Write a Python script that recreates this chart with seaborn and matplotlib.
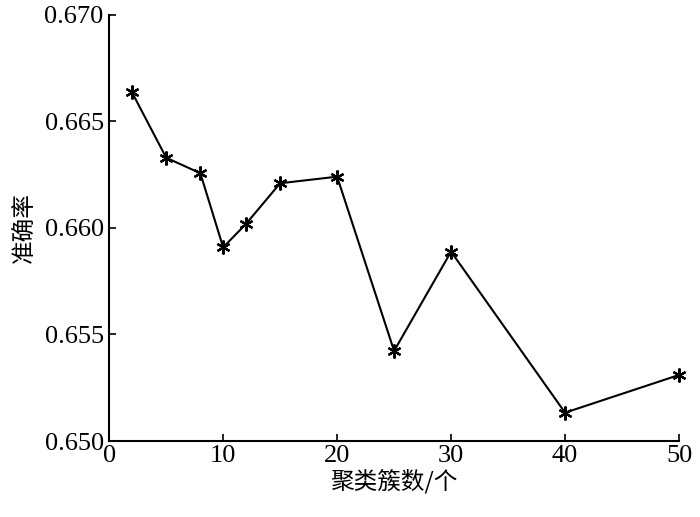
import matplotlib
matplotlib.use("Agg")
import matplotlib.pyplot as plt
import seaborn as sns
import pandas as pd

clusters = [2, 5, 8, 10, 12, 15, 20, 25, 30, 40, 50]
accuracy = [0.66637, 0.66330, 0.66257, 0.65909, 0.66019, 0.66210,
            0.66241, 0.65423, 0.65889, 0.65133, 0.65310]
xticks = [0, 10, 20, 30, 40, 50]
yticks = [0.650, 0.655, 0.660, 0.665, 0.670]
ytick_labels = ["0.650", "0.655", "0.660", "0.665", "0.670"]
xlabel = "聚类簇数/个"
ylabel = "准确率"

sns.set_theme(style="white")
fam = ["Liberation Serif", "Noto Sans CJK SC"]
plt.rcParams["font.family"] = fam
plt.rcParams["axes.unicode_minus"] = False

df = pd.DataFrame({"clusters": clusters, "accuracy": accuracy})

fig = plt.figure(figsize=(7, 5.17), dpi=100)
ax = fig.add_axes([0.156, 0.147, 0.814, 0.824])
sns.lineplot(data=df, x="clusters", y="accuracy", ax=ax, color="black",
             linewidth=1.5, marker=(6, 2, 0), markersize=10,
             markeredgewidth=1.6, markeredgecolor="black")
for ln in ax.get_lines():
    ln.set_clip_on(False)

ax.set_xlim(0, 50)
ax.set_ylim(0.650, 0.670)
ax.set_xticks(xticks)
ax.set_yticks(yticks)
ax.set_yticklabels(ytick_labels)
ax.tick_params(axis="both", direction="in", length=5, width=1.2,
               labelsize=19, colors="black", left=True, bottom=True)
ax.tick_params(axis="x", pad=3)
ax.tick_params(axis="y", pad=4)
ax.set_xlabel(xlabel, fontsize=17, family=["Noto Sans CJK SC"], labelpad=1,
              color="black", weight="medium")
ax.set_ylabel(ylabel, fontsize=17, family=["Noto Sans CJK SC"], labelpad=6,
              color="black", weight="medium")
for s in ["top", "right"]:
    ax.spines[s].set_visible(False)
for s in ["left", "bottom"]:
    ax.spines[s].set_color("black")
    ax.spines[s].set_linewidth(1.5)

fig.savefig("out.png", dpi=100, facecolor="white")
